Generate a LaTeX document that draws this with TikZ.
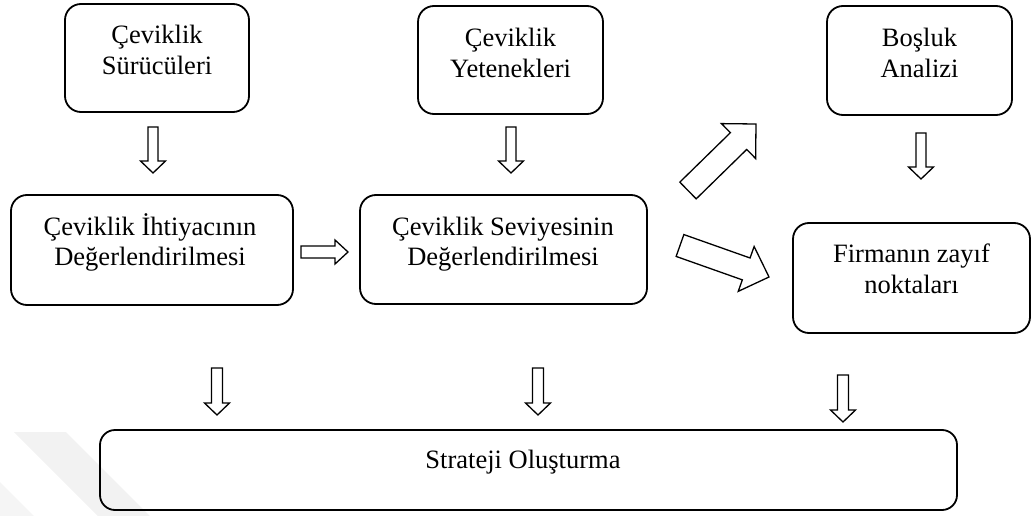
\documentclass[tikz,border=0pt]{standalone}
\usepackage{fontspec}
\setmainfont{Liberation Serif}
\usetikzlibrary{calc}

\tikzset{
  flowbox/.style={draw, line width=1.8pt, rounded corners=16pt, inner sep=0pt},
  linetext/.style={font=\fontsize{26.5}{30.5}\selectfont, anchor=base, inner sep=0pt},
  blk/.style={draw, line width=1.3pt, fill=white, line join=miter},
  mark band/.style={fill=black!5, draw=none},
}

% hollow block arrow: tail, tip, shaft half-width, head half-width, head length
\newcommand{\blockarrow}[5]{%
  \coordinate (hb) at ($(#2)!#5!(#1)$);
  \draw[blk] ($(#1)!#3!90:(#2)$) -- ($(hb)!#3!-90:(#1)$) -- ($(hb)!#4!-90:(#1)$)
    -- (#2) -- ($(hb)!#4!90:(#1)$) -- ($(hb)!#3!90:(#1)$) -- ($(#1)!#3!-90:(#2)$) -- cycle;
}

\begin{document}
\begin{tikzpicture}[x=1pt, y=-1pt]
  \useasboundingbox (0,0) rectangle (1033,516);

  % faint background band
  \fill[mark band] (14,432) -- (66,432) -- (150,516) -- (98,516) -- cycle;
  \fill[black!4] (0,482) -- (34,516) -- (0,516) -- cycle;

  % boxes
  \node[flowbox, minimum width=184pt, minimum height=108pt] (sur) at (157,58) {};
  \node[flowbox, minimum width=185pt, minimum height=108pt] (yet) at (510.5,60) {};
  \node[flowbox, minimum width=185pt, minimum height=109pt] (bos) at (919.5,60.5) {};
  \node[flowbox, minimum width=282pt, minimum height=110pt] (iht) at (152,250) {};
  \node[flowbox, minimum width=287pt, minimum height=109pt] (sev) at (503.5,249.5) {};
  \node[flowbox, minimum width=237pt, minimum height=110pt] (zay) at (911.5,278) {};
  \node[flowbox, minimum width=857pt, minimum height=80pt, rounded corners=15pt] (str) at (528.5,470) {};

  % box texts
  \node[linetext] (sur1) at (157,44) {Çeviklik};
  \node[linetext] (sur2) at (157,75) {Sürücüleri};
  \node[linetext] (yet1) at (510.5,47) {Çeviklik};
  \node[linetext] (yet2) at (510.5,78) {Yetenekleri};
  \node[linetext] (bos1) at (919.5,47) {Boşluk};
  \node[linetext] (bos2) at (919.5,78) {Analizi};
  \node[linetext] (iht1) at (150,235) {Çeviklik İhtiyacının};
  \node[linetext] (iht2) at (150,265) {Değerlendirilmesi};
  \node[linetext] (sev1) at (503,235) {Çeviklik Seviyesinin};
  \node[linetext] (sev2) at (503,265) {Değerlendirilmesi};
  \node[linetext] (zay1) at (911.5,262) {Firmanın zayıf};
  \node[linetext] (zay2) at (911.5,293) {noktaları};
  \node[linetext] (str1) at (523,468) {Strateji Oluşturma};

  % arrow end points
  \coordinate (a1s) at (153,127);   \coordinate (a1e) at (153,173);
  \coordinate (a2s) at (511,127);   \coordinate (a2e) at (511,173);
  \coordinate (a3s) at (921,133);   \coordinate (a3e) at (921,179);
  \coordinate (a4s) at (301,252);   \coordinate (a4e) at (348,252);
  \coordinate (a5s) at (688,190.5); \coordinate (a5e) at (756,124);
  \coordinate (a6s) at (680,245.5); \coordinate (a6e) at (769,277);
  \coordinate (a7s) at (217,368);   \coordinate (a7e) at (217,415);
  \coordinate (a8s) at (538,368);   \coordinate (a8e) at (538,415);
  \coordinate (a9s) at (843,375);   \coordinate (a9e) at (843,422);

  % block arrows
  \blockarrow{a1s}{a1e}{5pt}{12.5pt}{12pt}
  \blockarrow{a2s}{a2e}{5pt}{12.5pt}{12pt}
  \blockarrow{a3s}{a3e}{5pt}{12.5pt}{12pt}
  \blockarrow{a4s}{a4e}{6pt}{12pt}{13pt}
  \blockarrow{a5s}{a5e}{11.7pt}{24.4pt}{24.4pt}
  \blockarrow{a6s}{a6e}{11.6pt}{23.8pt}{24.2pt}
  \blockarrow{a7s}{a7e}{5.5pt}{12.5pt}{12pt}
  \blockarrow{a8s}{a8e}{5.5pt}{12.5pt}{12pt}
  \blockarrow{a9s}{a9e}{5.5pt}{12.5pt}{12pt}
\end{tikzpicture}
\end{document}
